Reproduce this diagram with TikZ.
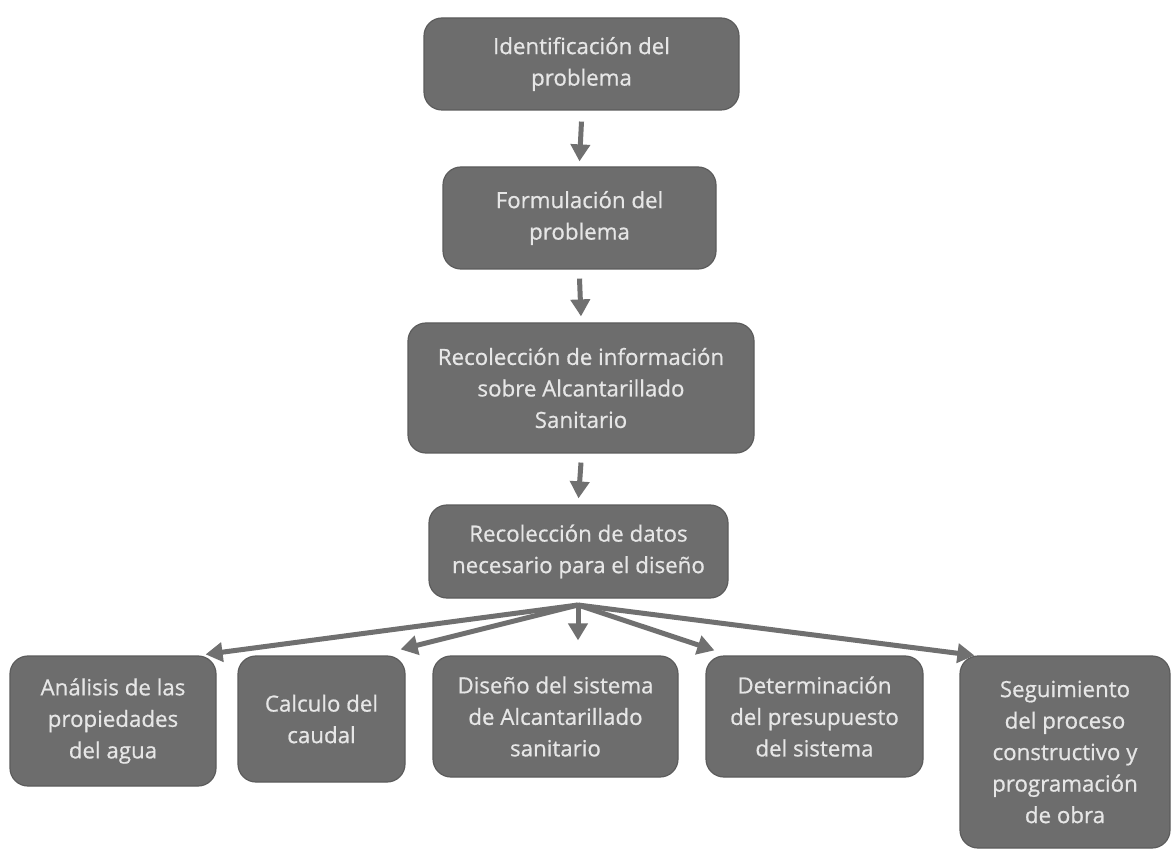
\documentclass[tikz,border=0pt]{standalone}
\usepackage{fontspec}
\setmainfont{Open Sans}
\newfontfamily\boxfont[FakeBold=0.7]{Open Sans}
\usetikzlibrary{arrows.meta}
\definecolor{boxfill}{HTML}{6D6D6D}
\definecolor{boxedge}{HTML}{5C5C5C}
\definecolor{boxtext}{HTML}{E6E6E6}
\definecolor{arrowcol}{HTML}{707070}
\tikzset{
  stepbox/.style={draw=boxedge, line width=1.2pt, fill=boxfill, rounded corners=18pt,
    text=boxtext, align=center, font=\boxfont\fontsize{22.3}{31.5}\selectfont, inner sep=0pt},
  flow/.style={draw=arrowcol, line width=5pt, -{Triangle[width=19pt,length=17pt]}}
}
\begin{document}
\begin{tikzpicture}[x=1pt,y=-1pt]
\useasboundingbox[fill=white] (0,0) rectangle (1171,850);
\node[stepbox, minimum width=315pt, minimum height=92pt] (n1) at (581.5,64) {Identificación del\\problema};
\node[stepbox, minimum width=273pt, minimum height=102pt] (n2) at (579.5,218) {Formulación del\\problema};
\node[stepbox, minimum width=346pt, minimum height=130pt] (n3) at (581,388) {Recolección de información\\sobre Alcantarillado\\Sanitario};
\node[stepbox, minimum width=299pt, minimum height=93pt] (n4) at (578.5,551.5) {Recolección de datos\\necesario para el diseño};
\node[stepbox, minimum width=206pt, minimum height=130pt] (b1) at (113,721) {Análisis de las\\propiedades\\del agua};
\node[stepbox, minimum width=167pt, minimum height=126pt] (b2) at (321.5,719) {Calculo del\\caudal};
\node[stepbox, minimum width=245pt, minimum height=121pt] (b3) at (555.5,716.5) {Diseño del sistema\\de Alcantarillado\\sanitario};
\node[stepbox, minimum width=217pt, minimum height=121pt] (b4) at (814.5,716.5) {Determinación\\del presupuesto\\del sistema};
\node[stepbox, minimum width=210pt, minimum height=192pt] (b5) at (1065,752) {Seguimiento\\del proceso\\constructivo y\\programación\\de obra};
\draw[flow] ([yshift=-11pt]n1.south) -- ([yshift=5pt]n2.north);
\draw[flow] ([yshift=-9pt]n2.south) -- ([yshift=6pt]n3.north);
\draw[flow] ([yshift=-9pt]n3.south) -- ([yshift=6pt]n4.north);
\coordinate (fan) at (578,605);
\draw[flow] (fan) -- ([xshift=-11pt,yshift=1pt]b1.north east);
\draw[flow] (fan) -- ([xshift=-5pt,yshift=6pt]b2.north east);
\draw[flow] (fan) -- ([xshift=22.5pt,yshift=15pt]b3.north);
\draw[flow] (fan) -- ([xshift=9pt,yshift=5pt]b4.north west);
\draw[flow] (fan) -- ([xshift=15pt,yshift=0pt]b5.north west);
\end{tikzpicture}
\end{document}
